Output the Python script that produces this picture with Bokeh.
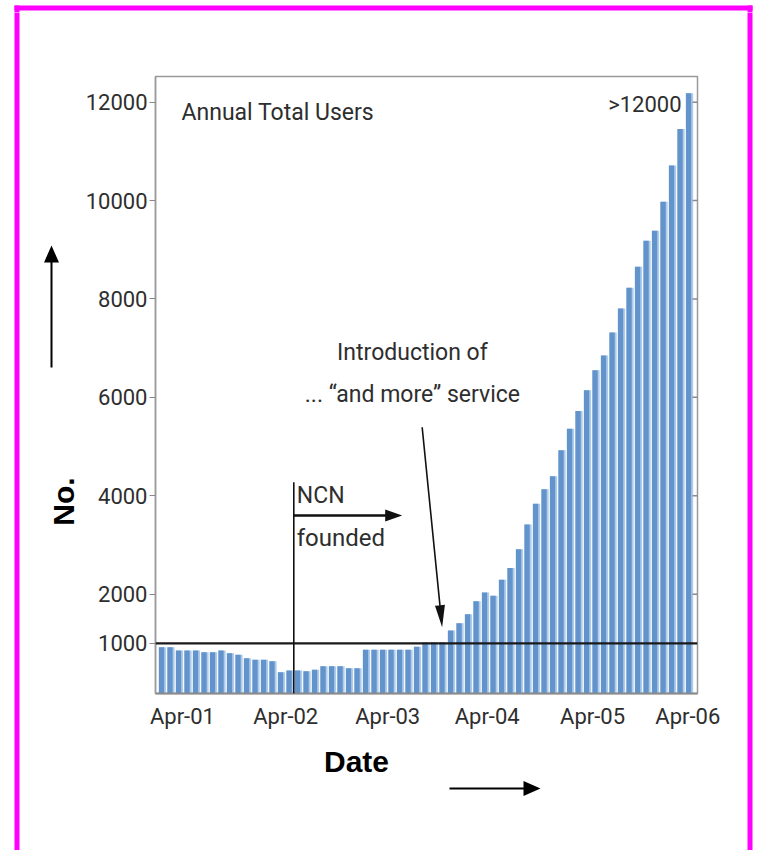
import math
from bokeh.plotting import figure
from bokeh.layouts import row, column
from bokeh.models import (ColumnDataSource, Span, Label, FixedTicker, BoxAnnotation,
                          PolyAnnotation, Range1d)
from bokeh.transform import dodge
from bokeh.embed import file_html
from bokeh.resources import INLINE

# ---------------- data ----------------
months = list(range(63))
users = [922, 922, 855, 855, 855, 820, 820, 855, 800, 767, 698, 665, 665, 637,
         413, 448, 448, 433, 462, 535, 535, 535, 494, 494,
         868, 868, 868, 868, 868, 868, 930, 1015, 1015, 1015,
         1261, 1410, 1590, 1855, 2035, 1965, 2293, 2530, 2910, 3418, 3839, 4130,
         4395, 4924, 5364, 5723,
         6144, 6551, 6850, 7318, 7807, 8226, 8654, 9182, 9385, 9975, 10715, 11455, 12180]
x_tick_pos = [2.35, 14.5, 26.5, 38.2, 50.6, 61.8]
x_tick_labels = ["Apr-01", "Apr-02", "Apr-03", "Apr-04", "Apr-05", "Apr-06"]
y_ticks = [1000, 2000, 4000, 6000, 8000, 10000, 12000]
right_ticks = [2000, 4000, 6000, 8000, 10000, 12000]
threshold = 1000
ncn_month, ncn_top, ncn_arrow_y, ncn_arrow_end = 15.45, 4275, 3598, 28.2
intro_tail = (30.55, 5393)
intro_tip = (32.9, 1327)

# ---------------- page geometry (pixels) ----------------
PW, PH = 756, 850
LW = 80            # left strip width
MR = 724           # right edge of the main figure
TOPH = 12          # top strip height
MB = 735           # bottom edge of the main figure
X0, X1 = -0.82, 62.94
Y0, Y1 = -20, 12523
FL, FR, FT, FB = 155, 697, 76, 693   # plot frame on the page

MAG = "#ff00ff"
MAG_L, MAG_R, MAG_T, MAG_W = 14, 747, 5, 5
FONT = "Roboto"
TXT = "#2e2e2e"


def dx(px):
    return X0 + (px - FL) * (X1 - X0) / (FR - FL)


def dy(py):
    return Y0 + (FB - py) * (Y1 - Y0) / (FB - FT)


def px(x):
    return FL + (x - X0) * (FR - FL) / (X1 - X0)


def py(y):
    return FB - (y - Y0) * (FB - FT) / (Y1 - Y0)


def arrow_pts(x0, y0, x1, y1, w, hl=0.0, hw=0.0):
    L = math.hypot(x1 - x0, y1 - y0)
    ux, uy = (x1 - x0) / L, (y1 - y0) / L
    nx, ny = -uy, ux
    bx, by = x1 - ux * hl, y1 - uy * hl
    pts = [(x0 + nx * w / 2, y0 + ny * w / 2), (bx + nx * w / 2, by + ny * w / 2)]
    if hl:
        pts += [(bx + nx * hw / 2, by + ny * hw / 2), (x1, y1),
                (bx - nx * hw / 2, by - ny * hw / 2)]
    pts += [(bx - nx * w / 2, by - ny * w / 2), (x0 - nx * w / 2, y0 - ny * w / 2)]
    return pts


def add_arrow(fig, pts, conv_x, conv_y, color="black"):
    fig.add_layout(PolyAnnotation(xs=[conv_x(a) for a, _ in pts],
                                  ys=[conv_y(b) for _, b in pts],
                                  fill_color=color, fill_alpha=1.0, line_color=None))


def no_align(f):
    try:
        f.frame_align = False
    except Exception:
        pass


def strip(x0, y0, w, h):
    """a blank figure whose data units are page pixels"""
    f = figure(width=w, height=h, x_range=Range1d(x0, x0 + w), y_range=Range1d(y0 + h, y0),
               output_backend="svg", toolbar_location=None, min_border=0,
               x_axis_type=None, y_axis_type=None)
    f.xgrid.visible = False
    f.ygrid.visible = False
    f.outline_line_color = None
    f.background_fill_color = "white"
    f.border_fill_color = "white"
    no_align(f)
    return f


def mag_box(f, l, r, t, b):
    f.add_layout(BoxAnnotation(left=l, right=r, top=t, bottom=b, fill_color=MAG,
                               fill_alpha=1.0, line_color=None))


# ---------------- main chart ----------------
p = figure(width=MR - LW, height=MB - TOPH, x_range=Range1d(X0, X1), y_range=Range1d(Y0, Y1),
           output_backend="svg", toolbar_location=None,
           min_border_left=FL - LW, min_border_right=MR - FR,
           min_border_top=FT - TOPH, min_border_bottom=MB - FB)
no_align(p)
p.xgrid.visible = False
p.ygrid.visible = False
p.outline_line_color = "#9a9a9a"
p.outline_line_width = 1.5
p.background_fill_color = "white"
p.border_fill_color = "white"

ya = p.yaxis[0]
ya.ticker = FixedTicker(ticks=y_ticks)
ya.major_label_text_font = FONT
ya.major_label_text_font_size = "22px"
ya.major_label_text_color = TXT
ya.major_tick_in = 0
ya.major_tick_out = 6
ya.major_tick_line_color = "#8a8a8a"
ya.minor_tick_line_color = None
ya.axis_line_color = "#9a9a9a"
ya.axis_line_width = 1.5
ya.major_label_standoff = 2

xa = p.xaxis[0]
xa.ticker = FixedTicker(ticks=x_tick_pos)
xa.major_label_overrides = {t: l for t, l in zip(x_tick_pos, x_tick_labels)}
xa.major_label_text_font = FONT
xa.major_label_text_font_size = "22px"
xa.major_label_text_color = TXT
xa.major_tick_in = 0
xa.major_tick_out = 0
xa.minor_tick_line_color = None
xa.axis_line_color = "#8a8a8a"
xa.axis_line_width = 2
xa.major_label_standoff = 10

src = ColumnDataSource(dict(month=months, users=users))
p.vbar(x="month", top="users", bottom=Y0, width=0.86, source=src,
       fill_color="#aecbea", line_color=None)
p.vbar(x=dodge("month", -0.11), top="users", bottom=Y0, width=0.62, source=src,
       fill_color="#6293cb", line_color=None)

# inner tick marks on the right edge (the outer half of each dash is clipped by the frame)
p.scatter(x=[X1] * len(right_ticks), y=right_ticks, marker="dash", size=10,
          line_color="#8a8a8a", line_width=1.5)

p.add_layout(Span(location=threshold, dimension="width", line_color="#1a1a1a", line_width=2.2))

# NCN founded
add_arrow(p, arrow_pts(px(ncn_month), py(ncn_top), px(ncn_month), py(Y0), 1.6), dx, dy,
          "#111111")
add_arrow(p, arrow_pts(px(ncn_month), py(ncn_arrow_y), px(ncn_arrow_end), py(ncn_arrow_y),
                       2.6, 17, 12), dx, dy, "#111111")
p.add_layout(Label(x=15.8, y=4005, text="NCN", text_font=FONT, text_font_size="23px",
                   text_color=TXT, text_baseline="middle", text_align="left"))
p.add_layout(Label(x=15.8, y=3131, text="founded", text_font=FONT, text_font_size="24px",
                   text_color=TXT, text_baseline="middle", text_align="left"))

# Introduction of "and more"
add_arrow(p, arrow_pts(px(intro_tail[0]), py(intro_tail[1]), px(intro_tip[0]), py(intro_tip[1]),
                       1.6, 22, 10), dx, dy, "#111111")
p.add_layout(Label(x=29.4, y=6912, text="Introduction of", text_font=FONT,
                   text_font_size="23px", text_color=TXT, text_baseline="middle",
                   text_align="center"))
p.add_layout(Label(x=29.4, y=6058, text="... \u201cand more\u201d service", text_font=FONT,
                   text_font_size="23px", text_color=TXT, text_baseline="middle",
                   text_align="center"))

p.add_layout(Label(x=dx(181), y=dy(112), text="Annual Total Users", text_font=FONT,
                   text_font_size="23px", text_color=TXT, text_baseline="middle",
                   text_align="left"))
p.add_layout(Label(x=dx(681), y=dy(104), text=">12000", text_font=FONT,
                   text_font_size="22px", text_color=TXT, text_baseline="middle",
                   text_align="right"))

# ---------------- surrounding strips ----------------
top = strip(0, 0, PW, TOPH)
mag_box(top, MAG_L, MAG_R + MAG_W, MAG_T, MAG_T + MAG_W)
mag_box(top, MAG_L, MAG_L + MAG_W, MAG_T, TOPH + 4)
mag_box(top, MAG_R, MAG_R + MAG_W, MAG_T, TOPH + 4)

left = strip(0, TOPH, LW, PH - TOPH)
mag_box(left, MAG_L, MAG_L + MAG_W, TOPH - 4, PH + 10)
add_arrow(left, arrow_pts(51, 367, 51, 245, 2.0, 17, 15), lambda v: v, lambda v: v)
left.add_layout(Label(x=63, y=501, text="No.", text_font="Liberation Sans",
                      text_font_style="bold", text_font_size="30px", text_color="black",
                      text_baseline="middle", text_align="center", angle=math.pi / 2))

right = strip(MR, TOPH, PW - MR, PH - TOPH)
mag_box(right, MAG_R, MAG_R + MAG_W, TOPH - 4, PH + 10)

bottom = strip(LW, MB, MR - LW, PH - MB)
bottom.add_layout(Label(x=356, y=761, text="Date", text_font="Liberation Sans",
                        text_font_style="bold", text_font_size="30px", text_color="black",
                        text_baseline="middle", text_align="center"))
add_arrow(bottom, arrow_pts(449, 788, 540, 788, 2.0, 17, 15), lambda v: v, lambda v: v)

layout = column(top, row(left, column(p, bottom, spacing=0), right, spacing=0), spacing=0)

open("out.html", "w").write(file_html(layout, INLINE))
